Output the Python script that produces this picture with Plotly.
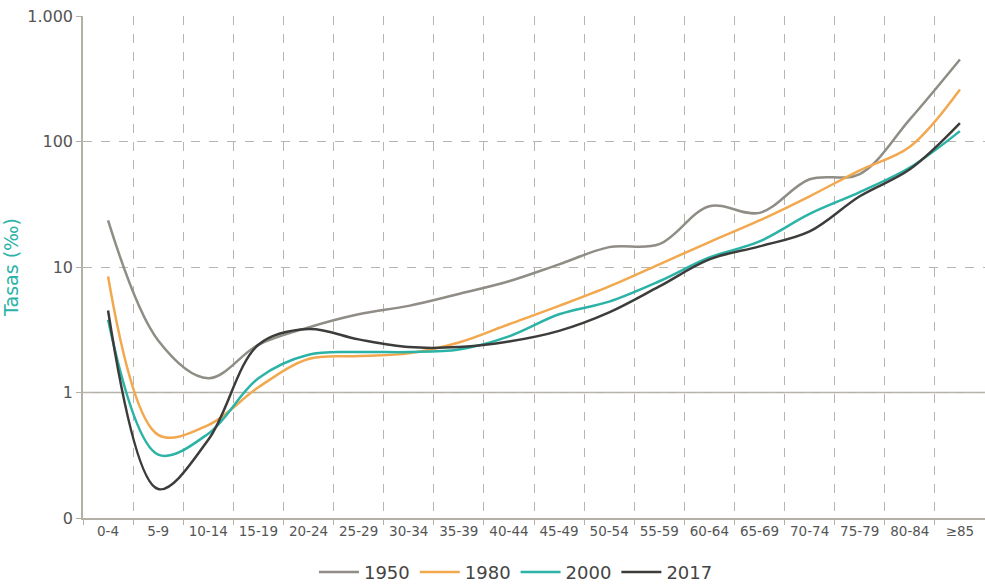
import plotly.graph_objects as go

categories = ["0-4", "5-9", "10-14", "15-19", "20-24", "25-29", "30-34", "35-39", "40-44",
              "45-49", "50-54", "55-59", "60-64", "65-69", "70-74", "75-79", "80-84", "≥85"]

y1950 = [23.5, 2.6, 1.3, 2.4, 3.3, 4.2, 4.9, 6.1, 7.7, 10.5, 14.4, 15.2, 30.5, 27, 50, 55, 150, 450]
y1980 = [8.4, 0.46, 0.55, 1.1, 1.85, 1.95, 2.05, 2.5, 3.5, 4.9, 7.0, 10.5, 15.8, 23.5, 36.6, 59, 91, 260]
y2000 = [3.8, 0.32, 0.47, 1.3, 2.0, 2.1, 2.1, 2.2, 2.8, 4.2, 5.3, 7.7, 11.9, 16, 26.5, 39.5, 62, 121]
y2017 = [4.5, 0.17, 0.42, 2.4, 3.2, 2.65, 2.3, 2.3, 2.55, 3.1, 4.35, 7.0, 11.5, 14.6, 19.2, 36.6, 60, 140]

series = [("1950", y1950, "#8f8d86"), ("1980", y1980, "#f2a84e"),
          ("2000", y2000, "#2ab3a6"), ("2017", y2017, "#3c3c3a")]

tick_vals = [0.1, 1, 10, 100, 1000]
tick_text = ["0", "1", "10", "100", "1.000"]

fig = go.Figure()
for name, ys, col in series:
    fig.add_trace(go.Scatter(x=categories, y=ys, name=name, mode="lines",
                             line=dict(color=col, width=2.5, shape="spline", smoothing=1)))

fig.add_hline(y=1, line=dict(color="#b3b0a8", width=1.5), layer="below")

fig.update_layout(
    width=985, height=584,
    margin=dict(l=83, r=0, t=16, b=66),
    paper_bgcolor="white", plot_bgcolor="white",
    font=dict(family="DejaVu Sans", color="#555555", size=12),
    showlegend=True,
    legend=dict(orientation="h", x=0.48, xanchor="center", yref="container", y=0.02, yanchor="middle",
                font=dict(size=18, color="#444444"), itemwidth=40, tracegroupgap=0),
)
fig.update_xaxes(type="category", tickson="boundaries", showgrid=True, automargin=False,
                 gridcolor="#b8b5ae", griddash="dash", gridwidth=1,
                 showline=True, linecolor="#b3b0a8", linewidth=1.5,
                 ticks="outside", ticklen=5, tickcolor="#b3b0a8",
                 tickfont=dict(size=13.5, color="#555555"), range=[-0.5, 17.5])
fig.update_yaxes(type="log", range=[-1, 3], tickvals=tick_vals, ticktext=tick_text,
                 showgrid=True, gridcolor="#b8b5ae", griddash="dash", gridwidth=1, automargin=False,
                 showline=True, linecolor="#b3b0a8", linewidth=1.5,
                 ticks="outside", ticklen=5, tickcolor="#b3b0a8",
                 tickfont=dict(size=16, color="#555555"),
                 title=dict(text="Tasas (‰)", font=dict(size=19, color="#2ab3a6"), standoff=10),
                 zeroline=False)

fig.write_html("out.html", config={"displayModeBar": False},
               post_script="document.body.style.margin='0';")
